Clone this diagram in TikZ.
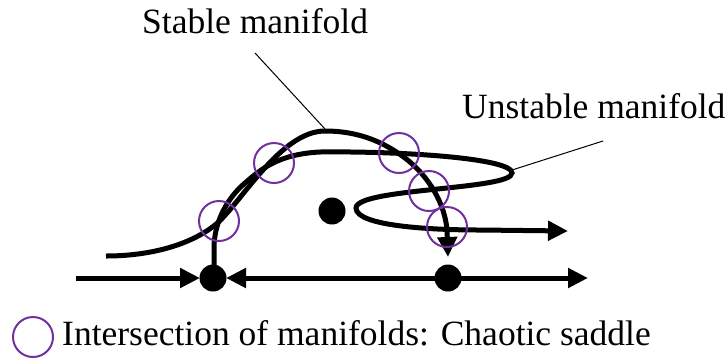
\documentclass[tikz,border=0pt]{standalone}
\usepackage{fontspec}
\setmainfont{Liberation Serif}
\usetikzlibrary{arrows.meta}
\definecolor{isect}{RGB}{112,48,160}
\begin{document}
\begin{tikzpicture}[x=1pt,y=-1pt,
  manifold/.style={line width=5pt, black},
  tipped/.style={-{Triangle[length=20pt,width=19pt]}},
  leader/.style={line width=1pt, black},
  dotnode/.style={circle, fill=black, minimum size=27pt, inner sep=0pt},
  ring/.style={circle, draw=isect, line width=2pt, minimum size=40pt, inner sep=0pt},
  label/.style={font=\fontsize{35.5}{40}\selectfont, inner sep=0pt}]
\useasboundingbox (0,0) rectangle (727,360);
% texts
\node[label, anchor=base west] (stabtxt) at (142,33) {Stable manifold};
\node[label, anchor=base west] (unstabtxt) at (462,118) {Unstable manifold};
\node[label, anchor=base west] (legtxt) at (62,345) {Intersection of manifolds: Chaotic saddle};
\node[ring] (legring) at (33,337) {};
% saddles and centre
\coordinate (Lpos) at (213,278);
\coordinate (Rpos) at (448,278);
\coordinate (axL) at (76,278);
\coordinate (axR) at (588,278);
% axis
\draw[manifold, tipped, shorten >=13pt] (axL) -- (Lpos);
\draw[manifold, tipped, shorten >=13pt] (Rpos) -- (Lpos);
\draw[manifold, tipped] (Rpos) -- (axR);
% unstable manifold
\draw[manifold, tipped] (214,266) -- (214,248)
  .. controls (214,225) and (225,200) .. (245,183)
  .. controls (262,168) and (280,154) .. (320,152)
  .. controls (400,151) and (512,158) .. (512,173)
  .. controls (512,190) and (356,188) .. (356,208)
  .. controls (356,226) and (430,230) .. (480,230) -- (568,231);
% stable manifold
\draw[manifold, tipped] (106,256)
  .. controls (150,256) and (190,245) .. (215,225)
  .. controls (240,205) and (280,131) .. (325,131)
  .. controls (360,131) and (385,143) .. (405,158)
  .. controls (430,177) and (445,205) .. (447,230) -- (448,257);
% dots
\node[dotnode] (L) at (Lpos) {};
\node[dotnode] (R) at (Rpos) {};
\node[dotnode] (C) at (332,211) {};
% intersection rings
\node[ring] (i1) at (219,221) {};
\node[ring] (i2) at (274,163) {};
\node[ring] (i3) at (399,153) {};
\node[ring] (i4) at (429,191) {};
\node[ring] (i5) at (447,227) {};
% leaders
\coordinate (stabfoot) at (255,53);
\coordinate (stabtip) at (325,129);
\coordinate (unstabfoot) at (603,141);
\coordinate (unstabtip) at (512,170);
\draw[leader] (stabfoot) -- (stabtip);
\draw[leader] (unstabfoot) -- (unstabtip);
\end{tikzpicture}
\end{document}
